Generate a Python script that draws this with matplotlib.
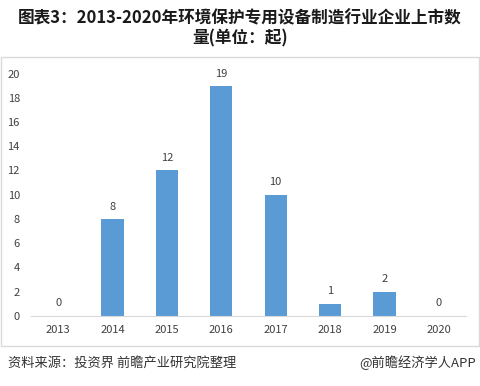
import matplotlib
matplotlib.use("Agg")
import matplotlib.pyplot as plt
from matplotlib.patches import Rectangle

plt.rcParams['font.family'] = ['Noto Sans CJK SC', 'DejaVu Sans']

# 数据
years = ['2013', '2014', '2015', '2016', '2017', '2018', '2019', '2020']
counts = [0, 8, 12, 19, 10, 1, 2, 0]
y_ticks = [0, 2, 4, 6, 8, 10, 12, 14, 16, 18, 20]

bar_color = '#5B9BD5'
text_color = '#404040'

fig = plt.figure(figsize=(4.8, 3.86), dpi=100)

# 外框
fig.patches.append(Rectangle((0.002, 1 - 346 / 386), 0.996, (346 - 57) / 386,
                             transform=fig.transFigure, fill=False,
                             edgecolor='#D9D9D9', linewidth=1.0))

ax = fig.add_axes([31 / 480, 1 - 315.7 / 386, 435 / 480, 242 / 386])
x = list(range(len(years)))
ax.bar(x, counts, width=0.41, color=bar_color)

for xi, v in zip(x, counts):
    ax.text(xi, v + 0.6, str(v), ha='center', va='bottom',
            fontsize=8, color=text_color)

ax.set_xlim(-0.5, 7.5)
ax.set_ylim(0, 20)
ax.set_xticks(x)
ax.set_xticklabels(years)
ax.set_yticks(y_ticks)
ax.tick_params(axis='both', length=0, labelsize=8, colors=text_color)
ax.tick_params(axis='x', pad=7)
ax.tick_params(axis='y', pad=8)
for s in ['top', 'right', 'left']:
    ax.spines[s].set_visible(False)
ax.spines['bottom'].set_color('#D9D9D9')

# 标题
fig.text(0.5, 1 - 18 / 386, '图表3：2013-2020年环境保护专用设备制造行业企业上市数',
         ha='center', va='center', fontsize=12, fontweight='bold', color='#1a1a1a')
fig.text(0.5, 1 - 38 / 386, '量(单位：起)',
         ha='center', va='center', fontsize=12, fontweight='bold', color='#1a1a1a')

# 来源
fig.text(8 / 480, 1 - 363 / 386, '资料来源：投资界 前瞻产业研究院整理',
         ha='left', va='center', fontsize=9.5, color='#333333')
fig.text(476 / 480, 1 - 363 / 386, '@前瞻经济学人APP',
         ha='right', va='center', fontsize=9.5, color='#333333')

fig.savefig('out.png', dpi=100)
